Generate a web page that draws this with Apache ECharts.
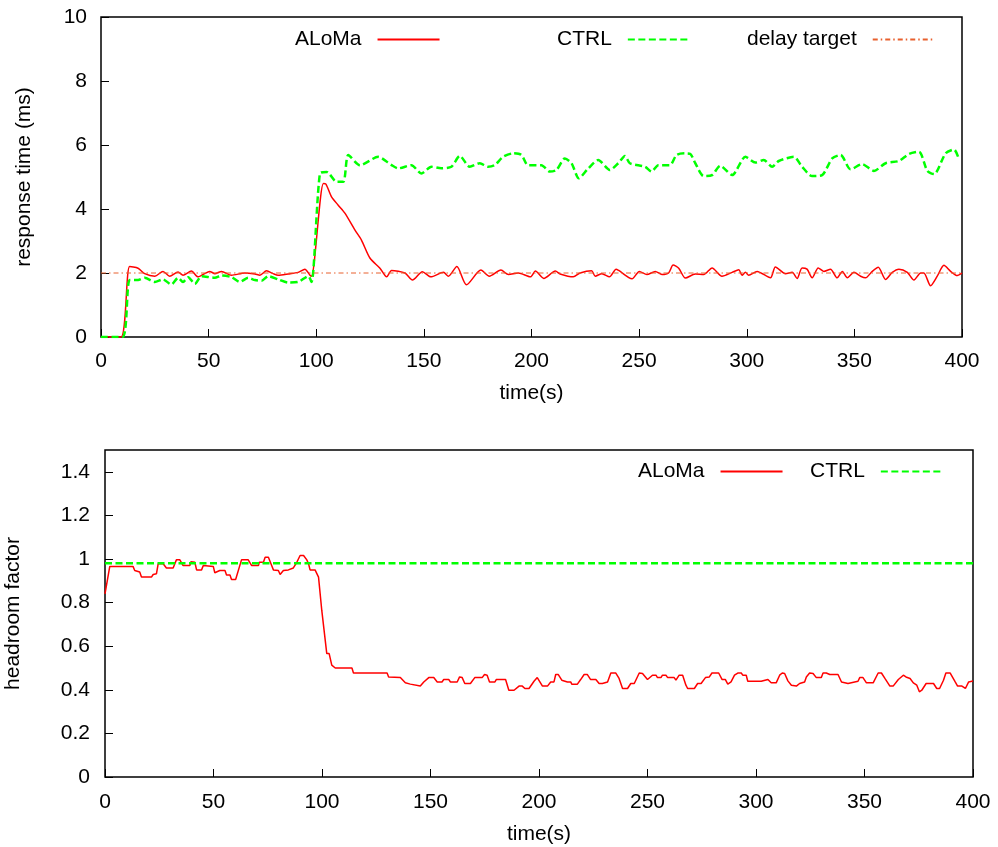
<!DOCTYPE html>
<html>
<head>
    <meta charset="utf-8">
    <title>ALoMa vs CTRL</title>
    <script src="https://cdn.jsdelivr.net/npm/echarts@6/dist/echarts.min.js"></script>
    <style>
        html, body { margin: 0; padding: 0; background: #fff; }
        #chart { width: 998px; height: 847px; }
    </style>
</head>
<body>
<div id="chart"></div>
<script type="text/javascript">
    // ---- data ----
    // top plot: response time (ms)
    var respAlomaT = [0, 9.3, 13.3, 17.2, 20.3, 25, 28.8, 31.9, 35.8, 38.1, 42, 45.1, 50.5, 52.9, 56, 60.6, 66.8, 71.5, 73.8, 76.9,
        80, 82.3, 87, 91.6, 94.7, 97.1, 97.8, 103.3, 104.5, 107.1, 110.2, 113.3, 118, 121, 125, 129.6, 132.7, 135, 141.2, 144.7,
        149.3, 153.2, 159.1, 161.4, 165.3, 169.8, 176.5, 180.4, 185.8, 189.3, 193.9, 199.5, 201.8, 205.7, 211.1, 213.3, 219.4, 222.6, 227.9, 229.6,
        232.7, 236.2, 239.3, 240.5, 246.7, 250.1, 253.6, 257.5, 260.6, 263.7, 265.8, 268.4, 271.5, 276.1, 280, 283.9, 288.5, 293.2, 296.3, 297.8,
        299.4, 300.9, 304.8, 311, 313.3, 318, 321.1, 323.4, 325.7, 328, 330.4, 333.2, 335.8, 338.9, 342, 344.4, 346.7, 349.8, 352.9, 355.2,
        358.3, 361.1, 364.5, 367.6, 370.7, 374.6, 377.7, 380.8, 382.3, 385.4, 388.5, 391.6, 394.7, 397.8, 400];
    var respAlomaV = [0, 0, 2.2, 2.15, 1.98, 1.9, 2.05, 1.9, 2.03, 1.93, 2.06, 1.88, 2.05, 1.98, 2.05, 1.93, 2.0, 1.97, 1.93, 2.07,
        1.98, 1.93, 1.97, 2.02, 2.12, 1.93, 1.9, 4.8, 4.78, 4.38, 4.12, 3.87, 3.34, 3.03, 2.46, 2.15, 1.88, 2.08, 2.0, 1.78,
        2.04, 1.88, 2.02, 1.9, 2.2, 1.63, 2.09, 1.9, 2.09, 1.95, 2.0, 1.88, 2.06, 1.83, 2.06, 1.97, 1.88, 2.0, 2.07, 1.9,
        1.98, 1.88, 2.12, 2.08, 1.82, 2.05, 1.95, 2.05, 1.95, 2.0, 2.25, 2.15, 1.84, 1.97, 1.95, 2.16, 1.9, 2.02, 2.1, 1.93,
        2.02, 1.93, 2.05, 1.85, 2.19, 1.98, 2.02, 1.83, 2.16, 2.12, 1.85, 2.16, 2.05, 2.12, 1.85, 2.05, 1.85, 2.02, 1.9, 1.85,
        2.05, 2.18, 1.8, 2.02, 2.12, 2.02, 1.78, 2.0, 2.0, 1.6, 1.9, 2.24, 2.05, 1.92, 2.0];

    var respCtrlT = [0, 10, 13.3, 17.2, 20.3, 25, 28.8, 32.7, 35.8, 38.1, 40.5, 43.6, 46.7, 52.9, 56, 60.6, 64.5, 68.4, 71.5, 74.6,
        77.7, 82.3, 87, 91.6, 96.3, 97.8, 101.7, 104.8, 109.5, 112.6, 114.9, 120.3, 128.8, 135, 138.1, 144.2, 148.8, 153.5, 158.1, 162.8,
        166.7, 171.3, 176, 179.8, 182.9, 186.8, 191.5, 195.3, 198.4, 204.6, 208.5, 211.6, 215.5, 218.6, 222, 226.4, 231, 236.4, 240.3, 243.4,
        245.7, 252.7, 255.8, 258.9, 264.3, 267.4, 271.3, 273.8, 276.1, 280, 283.9, 287.7, 293.2, 299.4, 304, 307.9, 311.8, 314.9, 321.9, 325.7,
        330.4, 335, 339.7, 343.6, 348.2, 353.6, 359.1, 364.5, 370.7, 375.4, 380, 383.9, 387, 392.4, 396.3, 398.6];
    var respCtrlV = [0, 0, 1.78, 1.78, 1.85, 1.72, 1.8, 1.64, 1.85, 1.72, 1.87, 1.66, 1.9, 1.85, 1.92, 1.87, 1.72, 1.85, 1.78, 1.76,
        1.9, 1.8, 1.7, 1.72, 1.9, 1.72, 5.11, 5.16, 4.85, 4.85, 5.69, 5.37, 5.63, 5.37, 5.27, 5.37, 5.11, 5.32, 5.27, 5.32,
        5.66, 5.32, 5.43, 5.32, 5.37, 5.63, 5.74, 5.69, 5.37, 5.37, 5.17, 5.22, 5.58, 5.43, 4.96, 5.27, 5.53, 5.22, 5.43, 5.66,
        5.43, 5.32, 5.17, 5.37, 5.37, 5.69, 5.74, 5.72, 5.43, 5.03, 5.06, 5.35, 5.06, 5.63, 5.45, 5.53, 5.32, 5.5, 5.63, 5.32,
        5.03, 5.06, 5.58, 5.69, 5.24, 5.4, 5.19, 5.43, 5.5, 5.72, 5.79, 5.19, 5.09, 5.74, 5.86, 5.55];

    var delayTarget = 2;

    // bottom plot: headroom factor
    var headAlomaT = [0, 2.2, 12.9, 13.7, 16, 16.8, 21.4, 22.2, 23.7, 24.5, 26.8, 28.3, 31.4, 32.9, 34.5, 36, 39.1, 39.6, 41.4, 42.2,
        44.5, 45.3, 49.9, 50.6, 52.9, 55.3, 56, 57.6, 58.3, 60.2, 62.9, 66, 67.6, 70.7, 71.1, 73, 73.8, 75.3, 76.8, 77.6,
        79.9, 80.7, 82.2, 84.5, 85.3, 86.8, 88.4, 89.9, 91.5, 93, 93.8, 94.5, 96.8, 97.6, 98.4, 99.9, 102.2, 103.3, 104.5, 106.1,
        113.8, 114.5, 130, 130.7, 136.1, 136.9, 138.4, 140.7, 141.5, 145.3, 146.9, 149.2, 151.5, 153.1, 155.3, 156.1, 158.4, 159.2, 162.3, 163.4,
        164.6, 165.8, 168.4, 170.4, 173.8, 174.9, 176.1, 177.2, 179.7, 180.3, 184.6, 186.1, 188.5, 189.2, 190.8, 192.3, 193.5, 195.4, 197.7, 199.2,
        201.6, 203.9, 205.4, 206.9, 207.7, 208.9, 210.5, 213.1, 214.6, 215.1, 217.7, 219.2, 220.8, 222.3, 223.8, 226.2, 227.7, 229.2, 231.6, 233.1,
        235.4, 236.9, 238.5, 240.8, 242.3, 243.9, 246.2, 247.7, 250, 252.3, 253.9, 254.6, 256.2, 256.9, 258.5, 259.3, 262.3, 263.1, 264.6, 266.2,
        267.7, 268.5, 271.6, 273.1, 274.7, 276.7, 278.5, 279.7, 282.8, 284.4, 285.9, 287, 288.5, 290.1, 291.6, 293.2, 293.9, 295.5, 296.2, 302.4,
        303.2, 305.5, 307, 309.3, 310.9, 312.1, 313.2, 314.7, 316.3, 318.6, 320.1, 322.4, 323.2, 324.7, 326.3, 327.8, 330.1, 330.9, 332.4, 334,
        337.8, 339.4, 340.1, 342.4, 343.2, 347, 347.8, 349.3, 350.9, 354, 356.3, 357.8, 359.4, 361.7, 363.2, 365.6, 366.3, 367.9, 369.1, 371,
        372.5, 374.1, 375.3, 376.4, 378.4, 381.8, 383.3, 384.6, 386.4, 387.5, 389.5, 391.8, 392.9, 394.9, 396.5, 398, 400];
    var headAlomaV = [0.84, 0.966, 0.966, 0.947, 0.94, 0.917, 0.917, 0.929, 0.932, 0.978, 0.978, 0.959, 0.959, 0.996, 0.996, 0.97, 0.97, 0.988, 0.985, 0.95,
        0.95, 0.97, 0.966, 0.937, 0.947, 0.947, 0.927, 0.927, 0.906, 0.906, 0.996, 0.996, 0.97, 0.97, 0.985, 0.985, 1.008, 1.008, 0.97, 0.95,
        0.947, 0.929, 0.947, 0.95, 0.959, 0.959, 0.985, 1.016, 1.016, 0.996, 0.978, 0.95, 0.95, 0.958, 0.917, 0.764, 0.566, 0.566, 0.513, 0.5,
        0.5, 0.477, 0.477, 0.459, 0.456, 0.447, 0.432, 0.426, 0.417, 0.417, 0.436, 0.456, 0.456, 0.436, 0.436, 0.447, 0.447, 0.436, 0.436, 0.459,
        0.456, 0.429, 0.429, 0.456, 0.456, 0.47, 0.467, 0.436, 0.436, 0.447, 0.447, 0.398, 0.398, 0.406, 0.417, 0.417, 0.406, 0.406, 0.439, 0.456,
        0.417, 0.417, 0.436, 0.436, 0.47, 0.47, 0.444, 0.436, 0.436, 0.426, 0.426, 0.447, 0.47, 0.47, 0.447, 0.447, 0.429, 0.429, 0.436, 0.477,
        0.477, 0.452, 0.406, 0.406, 0.429, 0.429, 0.477, 0.475, 0.447, 0.467, 0.467, 0.456, 0.456, 0.467, 0.467, 0.456, 0.456, 0.444, 0.467, 0.467,
        0.421, 0.406, 0.406, 0.429, 0.429, 0.456, 0.459, 0.477, 0.477, 0.447, 0.447, 0.426, 0.436, 0.467, 0.477, 0.477, 0.467, 0.467, 0.439, 0.439,
        0.447, 0.447, 0.432, 0.432, 0.467, 0.477, 0.475, 0.441, 0.421, 0.417, 0.429, 0.436, 0.459, 0.477, 0.475, 0.456, 0.456, 0.477, 0.477, 0.47,
        0.47, 0.436, 0.429, 0.429, 0.436, 0.439, 0.456, 0.456, 0.432, 0.432, 0.477, 0.477, 0.452, 0.417, 0.417, 0.447, 0.447, 0.467, 0.459, 0.452,
        0.432, 0.421, 0.391, 0.398, 0.429, 0.429, 0.406, 0.406, 0.444, 0.477, 0.477, 0.436, 0.417, 0.417, 0.406, 0.436, 0.44];

    var headCtrl = 0.98;
    var timeRange = [0, 400];

    function pairs(t, v) {
        var out = [];
        for (var i = 0; i < t.length; i++) out.push([t[i], v[i]]);
        return out;
    }

    var FONT = '"Liberation Sans", Arial, Helvetica, sans-serif';
    var RED = '#ff0000', GREEN = '#00ff00', ORANGE = '#e8602e';

    // gnuplot style key: text on the left, line sample on the right, no marker
    function legendAt(name, left, top) {
        return {
            data: [name], left: left, top: top, padding: 0,
            itemWidth: 62, itemHeight: 14, align: 'right', selectedMode: false,
            itemStyle: { color: 'rgba(0,0,0,0)', borderColor: 'rgba(0,0,0,0)', borderWidth: 0, opacity: 0 },
            textStyle: { fontSize: 21, color: '#000', fontFamily: FONT, padding: [0, 11, 0, 0] }
        };
    }

    function xAxisFor(gridIndex, margin, gap) {
        return {
            type: 'value', gridIndex: gridIndex, min: 0, max: 400, interval: 50,
            name: 'time(s)', nameLocation: 'middle', nameGap: gap,
            nameTextStyle: { fontSize: 21, color: '#000', fontFamily: FONT },
            axisLine: { show: false },
            axisTick: { show: true, inside: true, length: 8, lineStyle: { color: '#000', width: 1 } },
            axisLabel: { fontSize: 21, color: '#000', fontFamily: FONT, margin: margin },
            splitLine: { show: false }
        };
    }

    var chart = echarts.init(document.getElementById('chart'));
    chart.setOption({
        animation: false,
        backgroundColor: '#fff',
        legend: [
            legendAt('ALoMa', 295, 29),
            legendAt('CTRL', 557, 29),
            legendAt('delay target', 747, 29),
            legendAt('ALoMa', 638, 461),
            legendAt('CTRL', 810, 461)
        ],
        grid: [
            { left: 101, right: 36, top: 17, bottom: 510, show: true, borderColor: '#000', borderWidth: 1.5, outerBoundsMode: 'none' },
            { left: 105, right: 25, top: 450, bottom: 70, show: true, borderColor: '#000', borderWidth: 1.5, outerBoundsMode: 'none' }
        ],
        xAxis: [xAxisFor(0, 14, 46), xAxisFor(1, 15, 47)],
        yAxis: [
            {
                type: 'value', gridIndex: 0, min: 0, max: 10, interval: 2,
                name: 'response time (ms)', nameLocation: 'middle', nameGap: 66,
                nameTextStyle: { fontSize: 21, color: '#000', fontFamily: FONT },
                axisLine: { show: false },
                axisTick: { show: true, inside: true, length: 8, lineStyle: { color: '#000', width: 1 } },
                axisLabel: { fontSize: 21, color: '#000', fontFamily: FONT, margin: 14 },
                splitLine: { show: false }
            },
            {
                type: 'value', gridIndex: 1, min: 0, max: 1.5, interval: 0.2,
                name: 'headroom factor', nameLocation: 'middle', nameGap: 81,
                nameTextStyle: { fontSize: 21, color: '#000', fontFamily: FONT },
                axisLine: { show: false },
                axisTick: { show: true, inside: true, length: 8, lineStyle: { color: '#000', width: 1 } },
                axisLabel: { fontSize: 21, color: '#000', fontFamily: FONT, margin: 15, showMaxLabel: false },
                splitLine: { show: false }
            }
        ],
        series: [
            {
                name: 'ALoMa', type: 'line', xAxisIndex: 0, yAxisIndex: 0, symbol: 'none', smooth: 0.25,
                lineStyle: { color: RED, width: 1.5 }, itemStyle: { color: RED },
                data: pairs(respAlomaT, respAlomaV)
            },
            {
                name: 'CTRL', type: 'line', xAxisIndex: 0, yAxisIndex: 0, symbol: 'none', smooth: 0.25,
                lineStyle: { color: GREEN, width: 2.5, type: [7, 3.5] }, itemStyle: { color: GREEN },
                data: pairs(respCtrlT, respCtrlV)
            },
            {
                name: 'delay target', type: 'line', xAxisIndex: 0, yAxisIndex: 0, symbol: 'none',
                lineStyle: { color: ORANGE, width: 1, type: [5, 3, 1.5, 3] }, itemStyle: { color: ORANGE },
                data: [[timeRange[0], delayTarget], [timeRange[1], delayTarget]]
            },
            {
                name: 'ALoMa', type: 'line', xAxisIndex: 1, yAxisIndex: 1, symbol: 'none',
                lineStyle: { color: RED, width: 1.5 }, itemStyle: { color: RED },
                data: pairs(headAlomaT, headAlomaV)
            },
            {
                name: 'CTRL', type: 'line', xAxisIndex: 1, yAxisIndex: 1, symbol: 'none',
                lineStyle: { color: GREEN, width: 2.5, type: [7, 3.5] }, itemStyle: { color: GREEN },
                data: [[timeRange[0], headCtrl], [timeRange[1], headCtrl]]
            }
        ]
    });
</script>
</body>
</html>
